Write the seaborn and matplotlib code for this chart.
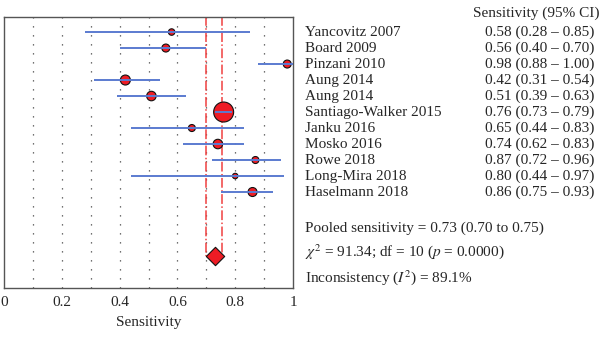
import matplotlib
matplotlib.use("Agg")
import matplotlib.pyplot as plt
import matplotlib.transforms as mtransforms
import seaborn as sns
import pandas as pd

studies = ["Yancovitz 2007", "Board 2009", "Pinzani 2010", "Aung 2014", "Aung 2014",
           "Santiago-Walker 2015", "Janku 2016", "Mosko 2016", "Rowe 2018",
           "Long-Mira 2018", "Haselmann 2018"]
sens = [0.58, 0.56, 0.98, 0.42, 0.51, 0.76, 0.65, 0.74, 0.87, 0.80, 0.86]
ci_lo = [0.28, 0.40, 0.88, 0.31, 0.39, 0.73, 0.44, 0.62, 0.72, 0.44, 0.75]
ci_hi = [0.85, 0.70, 1.00, 0.54, 0.63, 0.79, 0.83, 0.83, 0.96, 0.97, 0.93]
weight = [6.5, 8, 8, 10, 9.5, 20, 7, 9.5, 7, 5.5, 9]   # marker diameter (px)
pooled = 0.73
pooled_lo = 0.70
pooled_hi = 0.755
xticks = [0, 0.2, 0.4, 0.6, 0.8, 1.0]
xticklabels = ["0", "0.2", "0.4", "0.6", "0.8", "1"]
stats_lines = ["Pooled sensitivity = 0.73 (0.70 to 0.75)",
               r"$\chi^2$ = 91.34; df = 10 ($p$ = 0.0000)",
               r"Inconsistency ($I^2$) = 89.1%"]

sns.set_style("white")
plt.rcParams["font.family"] = ["Liberation Serif", "DejaVu Serif"]
plt.rcParams["mathtext.fontset"] = "stix"

fig = plt.figure(figsize=(6.0, 3.37), dpi=100)
ax = fig.add_axes([4/600, 1-288/337, 289/600, 271/337])

n = len(studies)
df = pd.DataFrame({"study": studies, "sens": sens, "lo": ci_lo, "hi": ci_hi,
                   "row": list(range(n)), "w": weight})
pool_row = n + 3

# grid
for g in [0.1, 0.2, 0.3, 0.4, 0.5, 0.6, 0.7, 0.8, 0.9]:
    ax.axvline(g, color="#444444", lw=0.9, ls=(0, (1, 6.2)), zorder=0)

# pooled lines
ax.vlines([pooled_lo, pooled_hi], -1, pool_row, colors="#f04040", lw=1.1,
          linestyles="dashdot", zorder=1)

sizes = [(d * 0.72) ** 2 for d in weight]
sns.scatterplot(data=df, x="sens", y="row", s=sizes, color="#ee1c25",
                edgecolor="#111111", linewidth=0.8, ax=ax, zorder=3, legend=False)
ax.hlines(df["row"], df["lo"], df["hi"], colors="#5b7bd0", lw=1.4, zorder=4)

ax.scatter([pooled], [pool_row], marker="D", s=(13 * 0.72) ** 2, color="#ee1c25",
           edgecolor="#111111", linewidth=0.8, zorder=5)

ax.set_xlim(0, 1)
ax.set_ylim(n + 5, -0.94)
ax.set_yticks([])
ax.set_xticks(xticks)
ax.set_xticklabels(xticklabels, fontsize=11)
ax.tick_params(axis="x", direction="out", length=4, width=0.8, color="#333333", pad=2)
ax.set_xlabel("Sensitivity", fontsize=11, labelpad=5)
ax.set_ylabel("")
for sp in ax.spines.values():
    sp.set_visible(True)
    sp.set_color("#555555")
    sp.set_linewidth(1.0)

trans = mtransforms.blended_transform_factory(fig.transFigure, ax.transData)
fs = 11
ax.text(473/600, -1.2, "Sensitivity (95% CI)", transform=trans, fontsize=fs,
        va="center", ha="left")
for i in range(n):
    ax.text(305/600, i, studies[i], transform=trans, fontsize=fs, va="center", ha="left")
    ax.text(485/600, i, f"{sens[i]:.2f} ({ci_lo[i]:.2f} – {ci_hi[i]:.2f})",
            transform=trans, fontsize=fs, va="center", ha="left")
for yy, s in zip([12.25, 13.75, 15.35], stats_lines):
    ax.text(305/600, yy, s, transform=trans, fontsize=fs, va="center", ha="left")

fig.savefig("out.png", dpi=100)
